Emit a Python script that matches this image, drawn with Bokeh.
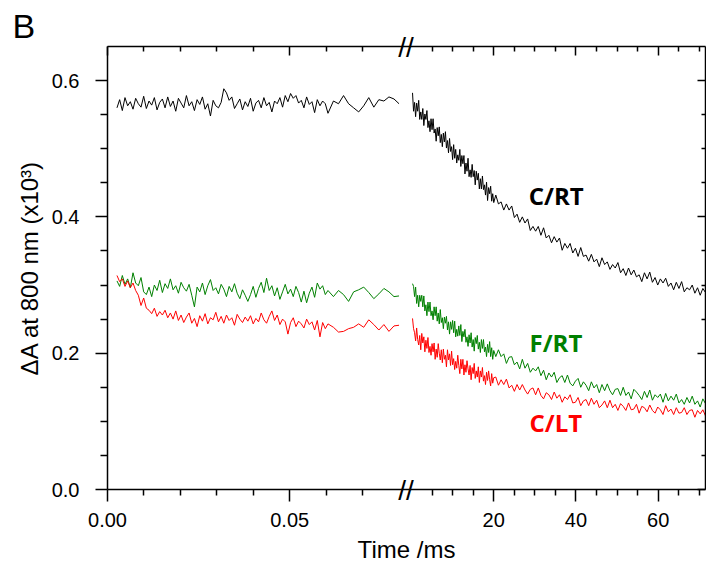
import numpy as np
from bokeh.plotting import figure
from bokeh.models import (Range1d, LinearAxis, FixedTicker, PrintfTickFormatter,
                          CustomJSTickFormatter, Label)
from bokeh.embed import file_html
from bokeh.resources import INLINE

# ---------------- data ----------------
# sampling grids (ms)
t_early_dense = np.linspace(0.0026, 0.0605, 80)
t_early_sparse = np.linspace(0.0620, 0.0800, 14)
t_late_dense = np.linspace(0.25, 20.0, 80)
t_late_sparse = np.linspace(20.5, 71.5, 80)

# C/RT (black)
crt_early_dense = [
    0.560, 0.572, 0.556, 0.575, 0.563, 0.569, 0.558, 0.574, 0.566, 0.561,
    0.577, 0.559, 0.570, 0.564, 0.575, 0.557, 0.568, 0.573, 0.560, 0.576,
    0.562, 0.570, 0.555, 0.574, 0.567, 0.560, 0.578, 0.563, 0.569, 0.556,
    0.572, 0.565, 0.576, 0.558, 0.566, 0.548, 0.571, 0.563, 0.560, 0.568,
    0.588, 0.582, 0.571, 0.576, 0.559, 0.566, 0.573, 0.557, 0.569, 0.562,
    0.574, 0.555, 0.567, 0.571, 0.560, 0.575, 0.563, 0.568, 0.554, 0.570,
    0.566, 0.575, 0.561, 0.578, 0.569, 0.581, 0.574, 0.578, 0.567, 0.571,
    0.560, 0.576, 0.565, 0.569, 0.553, 0.572, 0.563, 0.570, 0.566, 0.552]
crt_early_sparse = [0.570, 0.566, 0.578, 0.566, 0.560, 0.554, 0.563,
                    0.575, 0.561, 0.572, 0.570, 0.576, 0.573, 0.566]
crt_late_dense = [
    0.582, 0.555, 0.568, 0.547, 0.567, 0.555, 0.571, 0.543, 0.554, 0.543,
    0.559, 0.534, 0.551, 0.543, 0.556, 0.531, 0.541, 0.525, 0.544, 0.528,
    0.544, 0.523, 0.529, 0.511, 0.531, 0.519, 0.532, 0.509, 0.521, 0.503,
    0.523, 0.510, 0.525, 0.501, 0.512, 0.494, 0.515, 0.496, 0.503, 0.484,
    0.506, 0.486, 0.499, 0.479, 0.491, 0.483, 0.499, 0.474, 0.490, 0.478,
    0.490, 0.463, 0.479, 0.467, 0.486, 0.459, 0.469, 0.458, 0.477, 0.459,
    0.468, 0.447, 0.467, 0.454, 0.464, 0.441, 0.456, 0.441, 0.460, 0.440,
    0.447, 0.432, 0.451, 0.424, 0.443, 0.434, 0.445, 0.423, 0.434, 0.421]
crt_late_sparse = [
    0.432, 0.419, 0.422, 0.410, 0.419, 0.410, 0.416, 0.399, 0.404, 0.392,
    0.400, 0.391, 0.397, 0.380, 0.386, 0.379, 0.386, 0.373, 0.384, 0.369,
    0.373, 0.362, 0.371, 0.363, 0.369, 0.351, 0.361, 0.354, 0.361, 0.347,
    0.354, 0.342, 0.355, 0.342, 0.344, 0.335, 0.345, 0.334, 0.338, 0.327,
    0.340, 0.330, 0.334, 0.323, 0.330, 0.325, 0.333, 0.318, 0.324, 0.314,
    0.325, 0.315, 0.322, 0.312, 0.315, 0.305, 0.318, 0.309, 0.319, 0.304,
    0.311, 0.300, 0.309, 0.303, 0.310, 0.298, 0.303, 0.293, 0.304, 0.295,
    0.305, 0.290, 0.296, 0.293, 0.300, 0.288, 0.296, 0.285, 0.295, 0.289]

# F/RT (green)
frt_early_dense = [
    0.306, 0.298, 0.314, 0.301, 0.309, 0.296, 0.318, 0.303, 0.299, 0.311,
    0.290, 0.286, 0.297, 0.283, 0.300, 0.292, 0.307, 0.289, 0.302, 0.295,
    0.309, 0.293, 0.299, 0.288, 0.304, 0.296, 0.291, 0.301, 0.285, 0.268,
    0.297, 0.290, 0.303, 0.286, 0.299, 0.308, 0.292, 0.296, 0.287, 0.301,
    0.294, 0.283, 0.298, 0.290, 0.302, 0.288, 0.280, 0.293, 0.285, 0.276,
    0.286, 0.298, 0.282, 0.295, 0.304, 0.289, 0.310, 0.292, 0.299, 0.284,
    0.296, 0.279, 0.290, 0.301, 0.287, 0.294, 0.283, 0.298, 0.289, 0.275,
    0.291, 0.274, 0.288, 0.297, 0.282, 0.303, 0.294, 0.299, 0.286, 0.292]
frt_early_sparse = [0.283, 0.292, 0.286, 0.276, 0.290, 0.293, 0.297,
                    0.289, 0.280, 0.287, 0.295, 0.290, 0.283, 0.284]
frt_late_dense = [
    0.302, 0.298, 0.283, 0.297, 0.273, 0.285, 0.268, 0.285, 0.276, 0.285,
    0.268, 0.284, 0.262, 0.271, 0.255, 0.275, 0.261, 0.275, 0.255, 0.262,
    0.249, 0.268, 0.255, 0.268, 0.247, 0.259, 0.243, 0.264, 0.245, 0.252,
    0.236, 0.253, 0.244, 0.254, 0.234, 0.246, 0.228, 0.246, 0.235, 0.248,
    0.230, 0.247, 0.224, 0.235, 0.225, 0.240, 0.226, 0.242, 0.217, 0.232,
    0.224, 0.235, 0.216, 0.224, 0.210, 0.227, 0.215, 0.230, 0.209, 0.220,
    0.203, 0.223, 0.214, 0.226, 0.206, 0.216, 0.201, 0.220, 0.207, 0.220,
    0.202, 0.209, 0.195, 0.213, 0.201, 0.217, 0.195, 0.208, 0.191, 0.204]
frt_late_sparse = [
    0.195, 0.205, 0.195, 0.199, 0.185, 0.194, 0.195, 0.183, 0.187, 0.177,
    0.191, 0.178, 0.185, 0.172, 0.178, 0.174, 0.180, 0.167, 0.175, 0.161,
    0.171, 0.165, 0.172, 0.157, 0.164, 0.167, 0.157, 0.168, 0.156, 0.152,
    0.159, 0.163, 0.150, 0.158, 0.153, 0.145, 0.158, 0.149, 0.154, 0.142,
    0.154, 0.145, 0.155, 0.145, 0.139, 0.147, 0.148, 0.138, 0.150, 0.138,
    0.143, 0.133, 0.147, 0.143, 0.138, 0.132, 0.144, 0.135, 0.146, 0.131,
    0.139, 0.135, 0.140, 0.128, 0.141, 0.130, 0.137, 0.131, 0.140, 0.127,
    0.132, 0.125, 0.135, 0.127, 0.137, 0.125, 0.130, 0.121, 0.133, 0.126]

# C/LT (red)
clt_early_dense = [
    0.314, 0.305, 0.309, 0.298, 0.306, 0.296, 0.303, 0.292, 0.285, 0.270,
    0.281, 0.266, 0.263, 0.258, 0.266, 0.254, 0.261, 0.256, 0.263, 0.252,
    0.259, 0.250, 0.262, 0.248, 0.256, 0.245, 0.253, 0.259, 0.244, 0.251,
    0.239, 0.255, 0.247, 0.258, 0.243, 0.252, 0.249, 0.260, 0.246, 0.254,
    0.244, 0.256, 0.248, 0.252, 0.241, 0.257, 0.250, 0.245, 0.253, 0.247,
    0.255, 0.243, 0.251, 0.246, 0.259, 0.249, 0.244, 0.254, 0.262, 0.248,
    0.256, 0.242, 0.250, 0.246, 0.228, 0.245, 0.252, 0.239, 0.247, 0.243,
    0.237, 0.250, 0.242, 0.246, 0.234, 0.248, 0.224, 0.245, 0.236, 0.243]
clt_early_sparse = [0.238, 0.231, 0.232, 0.236, 0.238, 0.243, 0.238,
                    0.249, 0.242, 0.234, 0.242, 0.232, 0.240, 0.241]
clt_late_dense = [
    0.251, 0.236, 0.230, 0.218, 0.237, 0.220, 0.212, 0.226, 0.205, 0.229,
    0.215, 0.224, 0.202, 0.219, 0.207, 0.223, 0.201, 0.210, 0.197, 0.214,
    0.202, 0.215, 0.191, 0.206, 0.194, 0.214, 0.200, 0.190, 0.205, 0.186,
    0.206, 0.191, 0.197, 0.180, 0.205, 0.190, 0.199, 0.182, 0.203, 0.183,
    0.192, 0.176, 0.188, 0.178, 0.197, 0.182, 0.170, 0.191, 0.177, 0.191,
    0.168, 0.183, 0.172, 0.189, 0.177, 0.168, 0.182, 0.161, 0.179, 0.170,
    0.185, 0.163, 0.174, 0.165, 0.180, 0.157, 0.174, 0.165, 0.179, 0.159,
    0.167, 0.154, 0.172, 0.160, 0.174, 0.161, 0.152, 0.170, 0.156, 0.164]
clt_late_sparse = [
    0.165, 0.153, 0.161, 0.154, 0.162, 0.149, 0.153, 0.144, 0.154, 0.146,
    0.154, 0.146, 0.140, 0.147, 0.149, 0.139, 0.149, 0.138, 0.133, 0.142,
    0.139, 0.132, 0.143, 0.134, 0.139, 0.128, 0.136, 0.132, 0.139, 0.127,
    0.128, 0.135, 0.123, 0.130, 0.132, 0.123, 0.134, 0.125, 0.131, 0.120,
    0.124, 0.130, 0.120, 0.131, 0.120, 0.125, 0.116, 0.126, 0.122, 0.116,
    0.127, 0.117, 0.118, 0.125, 0.112, 0.122, 0.120, 0.114, 0.124, 0.116,
    0.112, 0.121, 0.117, 0.110, 0.123, 0.114, 0.118, 0.110, 0.120, 0.112,
    0.113, 0.120, 0.110, 0.116, 0.117, 0.106, 0.116, 0.111, 0.117, 0.108]

series_names = ["C/RT", "F/RT", "C/LT"]
series_colors = ["#000000", "#008000", "#ff0000"]

# tick values
early_major = [0.0, 0.05]
early_major_labels = ["0.00", "0.05"]
early_minor = [0.01, 0.02, 0.03, 0.04, 0.06, 0.07]
late_major = [20, 40, 60]
late_minor = [5, 10, 15, 25, 30, 35, 45, 50, 55, 65, 70]
y_major = [0.0, 0.2, 0.4, 0.6]
y_minor = [0.05, 0.1, 0.15, 0.25, 0.3, 0.35, 0.45, 0.5, 0.55]

# ---------------- layout of the broken axis ----------------
LEFT_PX, TOP_PX, BOTTOM_PX = 107, 46, 489
PX_EARLY, PX_GAP, PX_LATE = 293, 11, 294
EARLY_END, LATE_END = 0.0804, 71.5
late_start = -(PX_EARLY + PX_GAP) / PX_LATE * LATE_END
early_range_end = EARLY_END * (PX_EARLY + PX_GAP + PX_LATE) / PX_EARLY
gap_main = -(PX_GAP / 2) / PX_LATE * LATE_END


def early_to_main(t):
    return late_start + t / early_range_end * (LATE_END - late_start)


FONT = "Liberation Sans"

p = figure(width=706, height=565, output_backend="svg", toolbar_location=None,
           x_range=Range1d(late_start - 1e-6, LATE_END), y_range=Range1d(0, 0.65),
           x_axis_location=None, y_axis_location=None,
           min_border_left=LEFT_PX, min_border_right=1, min_border_top=TOP_PX,
           min_border_bottom=565 - BOTTOM_PX)
p.extra_x_ranges = {"early": Range1d(0, early_range_end)}
p.xgrid.visible = False
p.ygrid.visible = False
p.outline_line_color = None
p.background_fill_color = "white"
p.border_fill_color = "white"

# panel letter
p.title.text = "B"
p.title.text_font = FONT
p.title.text_font_size = "34px"
p.title.text_font_style = "normal"
p.title.text_color = "black"
p.title.align = "left"
p.title.offset = -95
p.title.standoff = -32

# series
early_t = np.concatenate([t_early_dense, t_early_sparse])
late_t = np.concatenate([t_late_dense, t_late_sparse])
early_vals = [crt_early_dense + crt_early_sparse,
              frt_early_dense + frt_early_sparse,
              clt_early_dense + clt_early_sparse]
late_vals = [crt_late_dense + crt_late_sparse,
             frt_late_dense + frt_late_sparse,
             clt_late_dense + clt_late_sparse]
for ev, lv, c in zip(early_vals, late_vals, series_colors):
    p.line(early_t, ev, x_range_name="early", line_color=c, line_width=1)
    p.line(late_t, lv, line_color=c, line_width=1)

# axes
main_major = [early_to_main(v) for v in early_major] + late_major
main_minor = [early_to_main(v) for v in early_minor] + late_minor
overrides = {early_to_main(v): s for v, s in zip(early_major, early_major_labels)}
overrides.update({v: str(v) for v in late_major})
blank = CustomJSTickFormatter(code="return ''")


def style(ax):
    ax.axis_line_width = 1.5
    ax.major_tick_line_width = 1.5
    ax.minor_tick_line_width = 1.5
    ax.axis_line_color = "black"
    ax.major_tick_line_color = "black"
    ax.minor_tick_line_color = "black"
    ax.major_label_text_font = FONT
    ax.major_label_text_font_size = "20px"
    ax.major_label_text_color = "black"
    ax.axis_label_text_font = FONT
    ax.axis_label_text_font_size = "24px"
    ax.axis_label_text_font_style = "normal"
    ax.axis_label_text_color = "black"


def break_axis(standoff):
    ax = LinearAxis(ticker=FixedTicker(ticks=[gap_main], minor_ticks=[]),
                    major_label_overrides={gap_main: "//"})
    ax.axis_line_color = None
    ax.major_tick_line_color = None
    ax.minor_tick_line_color = None
    ax.major_tick_out = 0
    ax.major_tick_in = 0
    ax.minor_tick_out = 0
    ax.minor_tick_in = 0
    ax.major_label_text_font = FONT
    ax.major_label_text_font_size = "28px"
    ax.major_label_text_color = "black"
    ax.major_label_standoff = standoff
    return ax


xb = LinearAxis(ticker=FixedTicker(ticks=main_major, minor_ticks=main_minor),
                major_label_overrides=overrides, axis_label="Time /ms")
style(xb)
xb.major_tick_out = 12
xb.major_tick_in = 0
xb.minor_tick_out = 6
xb.minor_tick_in = 0
xb.major_label_standoff = 11
xb.axis_label_standoff = 6
p.add_layout(xb, "below")
p.add_layout(break_axis(-91), "below")

xt = LinearAxis(ticker=FixedTicker(ticks=main_major, minor_ticks=main_minor), formatter=blank)
style(xt)
xt.major_label_standoff = 0
xt.major_tick_out = 0
xt.major_tick_in = 9
xt.minor_tick_out = 0
xt.minor_tick_in = 5
p.add_layout(xt, "above")
p.add_layout(break_axis(-16), "above")

yl = LinearAxis(ticker=FixedTicker(ticks=y_major, minor_ticks=y_minor),
                formatter=PrintfTickFormatter(format="%.1f"),
                axis_label="\u0394A at 800 nm (x10\u00b3)")
style(yl)
yl.major_tick_out = 12
yl.major_tick_in = 0
yl.minor_tick_out = 7
yl.minor_tick_in = 0
yl.major_label_standoff = 16
yl.axis_label_standoff = 6
p.add_layout(yl, "left")

yr = LinearAxis(ticker=FixedTicker(ticks=y_major, minor_ticks=y_minor), formatter=blank)
style(yr)
yr.major_label_standoff = 0
yr.major_tick_out = 0
yr.major_tick_in = 8
yr.minor_tick_out = 0
yr.minor_tick_in = 4
p.add_layout(yr, "right")

# series labels
label_x = [28.5, 28.7, 28.7]
label_y = [0.4313, 0.2157, 0.0983]
for name, c, lx, ly in zip(series_names, series_colors, label_x, label_y):
    p.add_layout(Label(x=lx, y=ly, text=name, text_color=c, text_font="Open Sans",
                       text_font_style="bold", text_font_size="24px",
                       text_baseline="alphabetic"))

open("out.html", "w").write(file_html(p, INLINE))
